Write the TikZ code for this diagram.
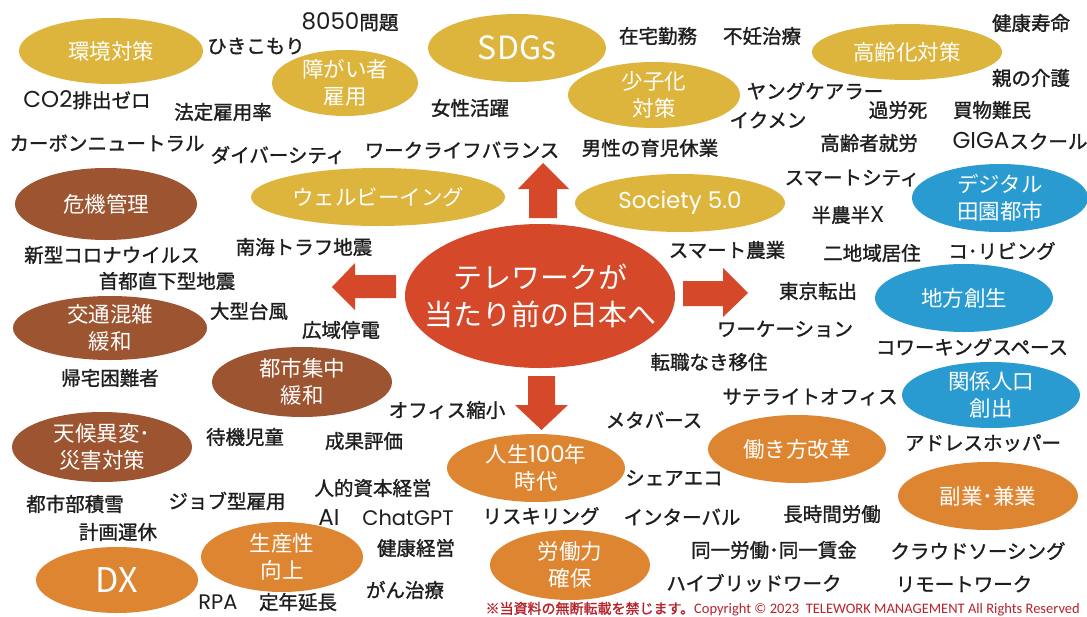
\documentclass[tikz,border=0pt]{standalone}
\usepackage{fontspec}
\setmainfont{Noto Sans CJK JP}
\newfontfamily\lblfont{Noto Sans CJK JP}[FakeBold=1.3]
\newfontfamily\latinfont{Carlito}
\newfontfamily\pop{Poppins}
\usetikzlibrary{shapes.geometric}
\definecolor{cgold}{HTML}{DDB43C}
\definecolor{cbrown}{HTML}{9C5431}
\definecolor{corange}{HTML}{DE8532}
\definecolor{cblue}{HTML}{2A9BD0}
\definecolor{cred}{HTML}{D6482A}
\definecolor{ink}{HTML}{1E1E1E}
\definecolor{cdred}{HTML}{B8222B}
\tikzset{
  esz/.style 2 args={minimum width=#1pt, minimum height=#2pt},
  bub/.style={ellipse, inner sep=0pt, draw=none},
  goldbub/.style={bub, fill=cgold},
  brownbub/.style={bub, fill=cbrown},
  orbub/.style={bub, fill=corange},
  bluebub/.style={bub, fill=cblue},
  redbub/.style={bub, fill=cred},
  bubtext/.style={inner sep=0pt, text=white, align=center, font=\fontsize{21.5}{27}\selectfont},
  lbl/.style={text=ink, inner sep=0pt, font=\lblfont\fontsize{19.5}{22}\selectfont},
  blockarrow/.style={fill=cred, draw=none}
}
\newcommand{\bubl}[6]{\node[#1, esz={#2}{#3}] (#4) at (#5) {}; \node[bubtext] (#4t) at (#4) {#6};}
\newcommand{\lat}[1]{{\pop\fontsize{23}{22}\selectfont #1}}
\begin{document}
\begin{tikzpicture}[x=1pt,y=-1pt]
\useasboundingbox (0,0) rectangle (1087,616);
\fill[white] (0,0) rectangle (1087,616);

% gold bubbles
\bubl{goldbub}{184}{66}{kankyo}{111,51}{環境対策}
\bubl{goldbub}{146}{66}{shogai}{345,83}{障がい者\\雇用}
\bubl{goldbub}{178}{68}{sdgs}{517,48}{\fontsize{32}{36}\selectfont SDGs}
\bubl{goldbub}{172}{66}{shoshi}{654,95}{少子化\\対策}
\bubl{goldbub}{190}{56}{korei}{907,52}{高齢化対策}
\bubl{goldbub}{254}{58}{well}{378,197}{ウェルビーイング}
\bubl{goldbub}{210}{58}{society}{680,203}{\lat{Society 5.0}}

% brown bubbles
\bubl{brownbub}{182}{72}{kiki}{106,204}{危機管理}
\bubl{brownbub}{194}{64}{kotsu}{110,328}{交通混雑\\緩和}
\bubl{brownbub}{180}{70}{toshi}{302,382}{都市集中\\緩和}
\bubl{brownbub}{180}{70}{tenko}{102,447}{天候異変･\\災害対策}

% orange bubbles
\bubl{orbub}{162}{66}{dx}{117,580}{\fontsize{34}{38}\selectfont DX}
\bubl{orbub}{162}{70}{seisan}{282,557}{生産性\\向上}
\bubl{orbub}{178}{68}{jinsei}{536,468}{人生\lat{100}年\\時代}
\bubl{orbub}{160}{70}{rodo}{570,565}{労働力\\確保}
\bubl{orbub}{178}{68}{hataraki}{797,449}{働き方改革}
\bubl{orbub}{180}{68}{fukugyo}{988,496}{副業･兼業}

% blue bubbles
\bubl{bluebub}{176}{68}{digital}{1000,198}{デジタル\\田園都市}
\bubl{bluebub}{178}{68}{chiho}{964,298}{地方創生}
\bubl{bluebub}{178}{66}{kankei}{991,395}{関係人口\\創出}

% center
\node[redbub, esz={270}{144}] (center) at (540,296) {};
\node[bubtext, font=\fontsize{29}{37}\selectfont] (centert) at (center) {テレワークが\\当たり前の日本へ};

% block arrows
\fill[blockarrow] (529,218) -- (529,189) -- (518,189) -- (543,163) -- (569,189) -- (557,189) -- (557,218) -- cycle;
\fill[blockarrow] (528,376) -- (528,405) -- (515,405) -- (541.5,430) -- (568,405) -- (555,405) -- (555,376) -- cycle;
\fill[blockarrow] (396,275) -- (355,275) -- (355,263) -- (332,287) -- (355,310) -- (355,298) -- (396,298) -- cycle;
\fill[blockarrow] (683,281) -- (723,281) -- (723,268) -- (748,293) -- (723,317) -- (723,306) -- (683,306) -- cycle;

% labels top
\node[lbl] (t8050) at (350,22) {\lat{8050}問題};
\node[lbl] (hiki) at (256,46) {ひきこもり};
\node[lbl] (zaitaku) at (658,36) {在宅勤務};
\node[lbl] (funin) at (762,36) {不妊治療};
\node[lbl] (kenkoju) at (1031,23) {健康寿命};
\node[lbl] (co2) at (87,100) {\lat{CO2}排出ゼロ};
\node[lbl] (hotei) at (223,112) {法定雇用率};
\node[lbl] (josei) at (470,108) {女性活躍};
\node[lbl] (young) at (815,91) {ヤングケアラー};
\node[lbl] (oya) at (1031,78) {親の介護};
\node[lbl] (karo) at (898,110) {過労死};
\node[lbl] (kaimono) at (992,110) {買物難民};
\node[lbl] (ikumen) at (768,120) {イクメン};
\node[lbl] (carbon) at (107,143) {カーボンニュートラル};
\node[lbl] (diversity) at (278,155) {ダイバーシティ};
\node[lbl] (wlb) at (462,150) {ワークライフバランス};
\node[lbl] (dansei) at (650,148) {男性の育児休業};
\node[lbl] (koreisha) at (869,143) {高齢者就労};
\node[lbl] (giga) at (1020,141) {\lat{GIGA}スクール};

% labels middle
\node[lbl] (smartcity) at (852,178) {スマートシティ};
\node[lbl] (hannou) at (848,215) {半農半\lat{X}};
\node[lbl] (smartagri) at (727,250) {スマート農業};
\node[lbl] (nichiiki) at (872,253) {二地域居住};
\node[lbl] (coliving) at (1002,251) {コ･リビング};
\node[lbl] (tokyo) at (818,291) {東京転出};
\node[lbl] (workation) at (785,329) {ワーケーション};
\node[lbl] (coworking) at (972,347) {コワーキングスペース};
\node[lbl] (tenshoku) at (709,362) {転職なき移住};
\node[lbl] (satellite) at (810,397) {サテライトオフィス};
\node[lbl] (corona) at (112,255) {新型コロナウイルス};
\node[lbl] (nankai) at (304,247) {南海トラフ地震};
\node[lbl] (shuto) at (167,281) {首都直下型地震};
\node[lbl] (taifu) at (249,311) {大型台風};
\node[lbl] (teiden) at (341,330) {広域停電};
\node[lbl] (kitaku) at (110,378) {帰宅困難者};

% labels bottom left
\node[lbl] (office) at (447,410) {オフィス縮小};
\node[lbl] (taiki) at (245,437) {待機児童};
\node[lbl] (seika) at (364,441) {成果評価};
\node[lbl] (sekisetsu) at (75,504) {都市部積雪};
\node[lbl] (job) at (227,501) {ジョブ型雇用};
\node[lbl] (jinteki) at (373,488) {人的資本経営};
\node[lbl] (keikaku) at (118,532) {計画運休};
\node[lbl] (ai) at (329,517) {\lat{AI}};
\node[lbl] (chatgpt) at (408,518) {{\pop\fontsize{21}{22}\selectfont ChatGPT}};
\node[lbl] (kenkokei) at (416,548) {健康経営};
\node[lbl] (gan) at (405,590) {がん治療};
\node[lbl] (rpa) at (218,602) {{\pop\fontsize{21}{22}\selectfont RPA}};
\node[lbl] (teinen) at (298,602) {定年延長};

% labels bottom right
\node[lbl] (metaverse) at (654,420) {メタバース};
\node[lbl] (share) at (674,478) {シェアエコ};
\node[lbl] (reskill) at (541,516) {リスキリング};
\node[lbl] (interval) at (682,517) {インターバル};
\node[lbl] (choujikan) at (832,514) {長時間労働};
\node[lbl] (address) at (983,443) {アドレスホッパー};
\node[lbl] (douitsu) at (774,550) {同一労働･同一賃金};
\node[lbl] (crowd) at (978,551) {クラウドソーシング};
\node[lbl] (hybrid) at (754,583) {ハイブリッドワーク};
\node[lbl] (remote) at (964,584) {リモートワーク};

% copyright
\node[anchor=east, inner sep=0pt, text=cdred] (copy) at (1080,609)
  {{\lblfont\fontsize{14}{14}\selectfont ※当資料の無断転載を禁じます。}{\latinfont\fontsize{14.5}{14}\selectfont Copyright © 2023\ \ TELEWORK MANAGEMENT All Rights Reserved}};
\end{tikzpicture}
\end{document}
